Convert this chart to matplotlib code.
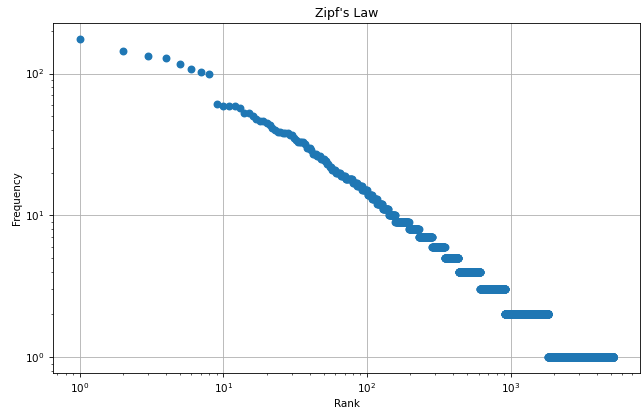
import numpy as np
import matplotlib
matplotlib.use("Agg")
import matplotlib.pyplot as plt

# frequencies of the most common words, rank 1..60
head_freqs = [176, 145, 132, 128, 117, 107, 103, 100, 61, 59,
              59, 59, 57, 53, 53, 50, 48, 46, 46, 45,
              43, 41, 40, 39, 39, 38, 38, 38, 37, 37,
              35, 34, 33, 33, 33, 33, 32, 30, 30, 30,
              29, 27, 27, 27, 26, 26, 26, 25, 25, 25,
              24, 24, 23, 23, 22, 22, 21, 21, 21, 21]

# rest of the vocabulary: frequency level and how many words share it
tail_freqs = [20, 19, 18, 17, 16, 15, 14, 13, 12, 11, 10, 9, 8, 7, 6, 5, 4, 3, 2, 1]
tail_counts = [5, 5, 9, 6, 7, 8, 8, 9, 11, 13, 16, 38, 34, 55, 63, 87, 180, 300, 921, 3365]

freqs = np.concatenate([head_freqs, np.repeat(tail_freqs, tail_counts)])
ranks = np.arange(1, len(freqs) + 1)

plt.rcParams['font.size'] = 7.5
plt.rcParams['axes.linewidth'] = 0.6
plt.rcParams['xtick.major.width'] = 0.6
plt.rcParams['ytick.major.width'] = 0.6
plt.rcParams['xtick.minor.width'] = 0.45
plt.rcParams['ytick.minor.width'] = 0.45
plt.rcParams['xtick.major.size'] = 2.6
plt.rcParams['ytick.major.size'] = 2.6
plt.rcParams['xtick.minor.size'] = 1.5
plt.rcParams['ytick.minor.size'] = 1.5

fig = plt.figure(figsize=(6.43, 4.11), dpi=100)
ax = fig.add_axes([0.0824, 0.0925, 0.913, 0.852])
ax.scatter(ranks, freqs, s=22, color="#1f77b4")
ax.set_xscale("log")
ax.set_yscale("log")
ax.set_title("Zipf's Law", fontsize=9, pad=4)
ax.set_xlabel("Rank", labelpad=3)
ax.set_ylabel("Frequency", labelpad=2)
ax.grid(True, color="#b0b0b0", linewidth=0.6)
ax.set_axisbelow(True)

fig.savefig("out.png", dpi=100)
